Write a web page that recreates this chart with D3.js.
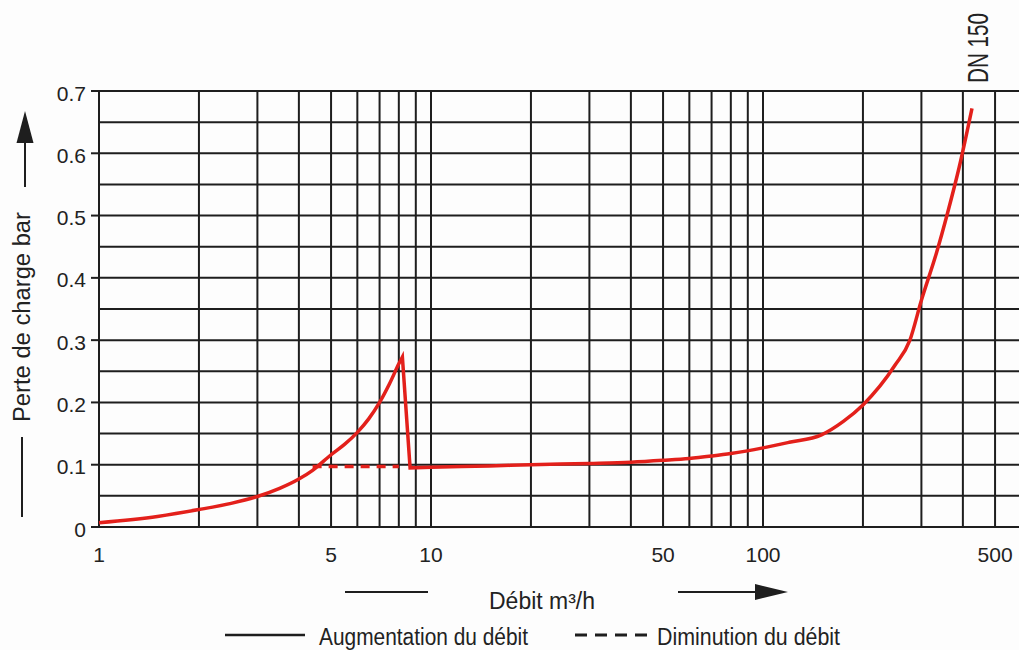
<!DOCTYPE html>
<html>
<head>
<meta charset="utf-8">
<script src="https://cdn.jsdelivr.net/npm/d3@7"></script>
<style>
  body { margin: 0; background: #fdfdfd; }
  svg { display: block; }
  text { fill: #222; }
</style>
</head>
<body>
<svg id="chart" width="1019" height="650"></svg>
<script>

// rising flow (solid), up to the peak
const riseFlow = [1, 1.5, 2, 2.5, 3, 3.5, 4, 4.4, 5, 5.5, 6, 6.5, 7, 7.5, 8, 8.2];
const riseLoss = [0.007, 0.017, 0.028, 0.038, 0.049, 0.062, 0.077, 0.091, 0.116, 0.133, 0.152, 0.174, 0.2, 0.23, 0.262, 0.273];

// after the valve opens
const openFlow = [8.65, 10, 15, 20, 30, 40, 50, 60, 70, 80, 100, 120, 150, 175, 200, 250, 277, 300, 333, 360, 390, 426];
const openLoss = [0.095, 0.096, 0.098, 0.1, 0.102, 0.104, 0.107, 0.11, 0.114, 0.118, 0.127, 0.136, 0.148, 0.17, 0.196, 0.26, 0.3, 0.364, 0.44, 0.505, 0.578, 0.672];

// falling flow (dashed)
const fallFlow = [4.4, 8.0];
const fallLoss = [0.097, 0.097];

const gridFlow = [1, 2, 3, 4, 5, 6, 7, 8, 9, 10, 20, 30, 40, 50, 60, 70, 80, 90, 100, 200, 300, 400, 500, 600];
const gridLoss = d3.range(0, 0.7001, 0.05);
const lossTicks = [0, 0.1, 0.2, 0.3, 0.4, 0.5, 0.6, 0.7];
const flowTicks = [1, 5, 10, 50, 100, 500];

const W = 1019;
const svg = d3.select("#chart");

const x = d3.scaleLog().domain([1, 1000]).range([99, 99 + 3 * 332]);
const y = d3.scaleLinear().domain([0, 0.7]).range([527, 91]);

const ink = "#1e1e1e";
const red = "#e3201b";
const font = "'Liberation Sans', Arial, Helvetica, sans-serif";

// grid
svg.append("g")
    .selectAll("line")
    .data(gridLoss)
    .enter()
    .append("line")
    .attr("x1", x(1))
    .attr("x2", W)
    .attr("y1", d => y(d))
    .attr("y2", d => y(d))
    .attr("stroke", ink)
    .attr("stroke-width", 2);

svg.append("g")
    .selectAll("line")
    .data(gridFlow)
    .enter()
    .append("line")
    .attr("x1", d => x(d))
    .attr("x2", d => x(d))
    .attr("y1", y(0.7))
    .attr("y2", y(0))
    .attr("stroke", ink)
    .attr("stroke-width", 2);

// y ticks + labels
svg.append("g")
    .selectAll("line")
    .data(lossTicks)
    .enter()
    .append("line")
    .attr("x1", x(1) - 8)
    .attr("x2", x(1))
    .attr("y1", d => y(d))
    .attr("y2", d => y(d))
    .attr("stroke", ink)
    .attr("stroke-width", 2);

svg.append("g")
    .selectAll("text")
    .data(lossTicks)
    .enter()
    .append("text")
    .attr("x", 86)
    .attr("y", d => y(d) + 2)
    .attr("dy", "0.36em")
    .attr("text-anchor", "end")
    .attr("font-family", font)
    .attr("font-size", 21)
    .text(d => d === 0 ? "0" : d3.format(".1f")(d));

// x labels
svg.append("g")
    .selectAll("text")
    .data(flowTicks)
    .enter()
    .append("text")
    .attr("x", d => x(d))
    .attr("y", 562)
    .attr("text-anchor", "middle")
    .attr("font-family", font)
    .attr("font-size", 21)
    .text(d => d);

// curves
const line = d3.line()
    .x(d => x(d[0]))
    .y(d => y(d[1]))
    .curve(d3.curveMonotoneX);

const rise = riseFlow.map((f, i) => [f, riseLoss[i]]);
const open = openFlow.map((f, i) => [f, openLoss[i]]);
const fall = fallFlow.map((f, i) => [f, fallLoss[i]]);

svg.append("path")
    .attr("d", d3.line().x(d => x(d[0])).y(d => y(d[1]))(fall))
    .attr("fill", "none")
    .attr("stroke", red)
    .attr("stroke-width", 3.5)
    .attr("stroke-dasharray", "9 7");

// the drop from the peak is a straight segment
svg.append("path")
    .attr("d", line(rise) + line(open).replace(/^M/, "L"))
    .attr("fill", "none")
    .attr("stroke", red)
    .attr("stroke-width", 3.5)
    .attr("stroke-linejoin", "miter");

// y title and arrow
svg.append("text")
    .attr("transform", "translate(30,317) rotate(-90)")
    .attr("text-anchor", "middle")
    .attr("font-family", font)
    .attr("font-size", 23)
    .attr("textLength", 210)
    .attr("lengthAdjust", "spacingAndGlyphs")
    .text("Perte de charge bar");

svg.append("line")
    .attr("x1", 25).attr("x2", 25)
    .attr("y1", 187).attr("y2", 138)
    .attr("stroke", ink).attr("stroke-width", 2);

svg.append("path")
    .attr("d", "M25,111 L33.5,143 L16.5,143 Z")
    .attr("fill", ink);

svg.append("line")
    .attr("x1", 22).attr("x2", 22)
    .attr("y1", 437).attr("y2", 517)
    .attr("stroke", ink).attr("stroke-width", 2);

// x title and arrow
svg.append("text")
    .attr("x", 489)
    .attr("y", 609)
    .attr("font-family", font)
    .attr("font-size", 23)
    .attr("textLength", 106)
    .attr("lengthAdjust", "spacingAndGlyphs")
    .text("Débit m³/h");

svg.append("line")
    .attr("x1", 345).attr("x2", 428)
    .attr("y1", 592).attr("y2", 592)
    .attr("stroke", ink).attr("stroke-width", 2);

svg.append("line")
    .attr("x1", 678).attr("x2", 760)
    .attr("y1", 592).attr("y2", 592)
    .attr("stroke", ink).attr("stroke-width", 2);

svg.append("path")
    .attr("d", "M788,592 L755,584 L755,600 Z")
    .attr("fill", ink);

// DN label
svg.append("text")
    .attr("transform", "translate(988,48) rotate(-90)")
    .attr("text-anchor", "middle")
    .attr("font-family", font)
    .attr("font-size", 30)
    .attr("textLength", 70)
    .attr("lengthAdjust", "spacingAndGlyphs")
    .text("DN 150");

// legend
svg.append("line")
    .attr("x1", 225).attr("x2", 305)
    .attr("y1", 635).attr("y2", 635)
    .attr("stroke", ink).attr("stroke-width", 2.5);

svg.append("text")
    .attr("x", 319)
    .attr("y", 645)
    .attr("font-family", font)
    .attr("font-size", 23.5)
    .attr("textLength", 209)
    .attr("lengthAdjust", "spacingAndGlyphs")
    .text("Augmentation du débit");

svg.append("line")
    .attr("x1", 575).attr("x2", 647)
    .attr("y1", 635).attr("y2", 635)
    .attr("stroke", ink).attr("stroke-width", 3)
    .attr("stroke-dasharray", "12 8");

svg.append("text")
    .attr("x", 657)
    .attr("y", 645)
    .attr("font-family", font)
    .attr("font-size", 23.5)
    .attr("textLength", 183)
    .attr("lengthAdjust", "spacingAndGlyphs")
    .text("Diminution du débit");

</script>
</body>
</html>
